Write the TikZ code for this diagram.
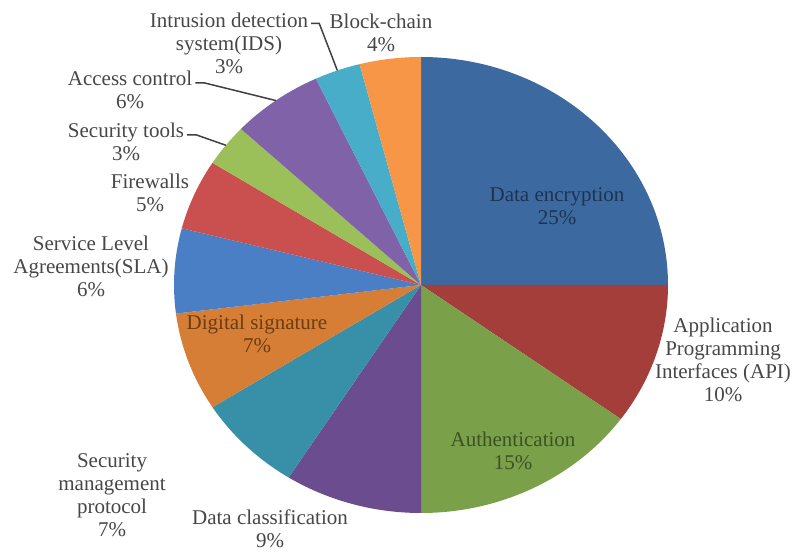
\documentclass[tikz,border=0pt]{standalone}
\usepackage{fontspec}
\setmainfont{Liberation Serif}
\definecolor{cA}{HTML}{3C6AA0}
\definecolor{cB}{HTML}{A33E3B}
\definecolor{cC}{HTML}{7AA04A}
\definecolor{cD}{HTML}{6B4C8E}
\definecolor{cE}{HTML}{3890A8}
\definecolor{cF}{HTML}{D67E35}
\definecolor{cG}{HTML}{4A7FC6}
\definecolor{cH}{HTML}{C9504E}
\definecolor{cI}{HTML}{9BC05A}
\definecolor{cJ}{HTML}{7F62A8}
\definecolor{cK}{HTML}{47ADC8}
\definecolor{cL}{HTML}{F79646}
\definecolor{labelgrey}{HTML}{474747}
\definecolor{leadgrey}{HTML}{404040}
\definecolor{tA}{HTML}{1E3350}
\definecolor{tC}{HTML}{3C5225}
\definecolor{tF}{HTML}{6A3D12}
\begin{document}
\begin{tikzpicture}[x=1pt,y=1pt,
  lbl/.style={font=\fontsize{21}{23}\selectfont, align=center, text=labelgrey, inner sep=0pt},
  leader/.style={draw=leadgrey, line width=1.5pt}]
\useasboundingbox[fill=white] (0,0) rectangle (798,552);
% slices
\foreach \a/\b/\c in {90/0/cA, 0/-36/cB, -36/-90/cC, -90/-122.4/cD,
  -122.4/-147.6/cE, -147.6/-172.8/cF, -172.8/-194.4/cG, -194.4/-212.4/cH,
  -212.4/-223.2/cI, -223.2/-244.8/cJ, -244.8/-255.6/cK, -255.6/-270/cL}{
  \fill[\c] (421,267) -- ++(\a:247 and 228)
    arc[start angle=\a, end angle=\b, x radius=247, y radius=228] -- cycle;
}
% edge points for leaders
\coordinate (idsE) at ([shift={(-250.2:247 and 228)}]421,267);
\coordinate (accE) at ([shift={(-234:247 and 228)}]421,267);
\coordinate (stE) at ([shift={(-217.8:247 and 228)}]421,267);
% labels
\node[lbl, text=tA] (enc) at (557,346) {Data encryption\\25\%};
\node[lbl] (api) at (723,192) {Application\\Programming\\Interfaces (API)\\10\%};
\node[lbl, text=tC] (auth) at (513,101) {Authentication\\15\%};
\node[lbl] (dcl) at (270,23) {Data classification\\9\%};
\node[lbl] (smp) at (112,57) {Security\\management\\protocol\\7\%};
\node[lbl, text=tF] (dsig) at (257,218) {Digital signature\\7\%};
\node[lbl] (sla) at (91,286) {Service Level\\Agreements(SLA)\\6\%};
\node[lbl] (fw) at (150,359) {Firewalls\\5\%};
\node[lbl] (st) at (126,410) {Security tools\\3\%};
\node[lbl] (acc) at (130,462) {Access control\\6\%};
\node[lbl] (ids) at (229,509) {Intrusion detection\\system(IDS)\\3\%};
\node[lbl] (blk) at (381,519) {Block-chain\\4\%};
% leaders
\draw[leader] ([xshift=3pt,yshift=-11pt]ids.north east) -- ++(8,0) -- (idsE);
\draw[leader] ([xshift=3pt,yshift=-12pt]acc.north east) -- ++(9,0) -- (accE);
\draw[leader] ([xshift=3pt,yshift=-12pt]st.north east) -- ++(9,0) -- (stE);
\end{tikzpicture}
\end{document}
